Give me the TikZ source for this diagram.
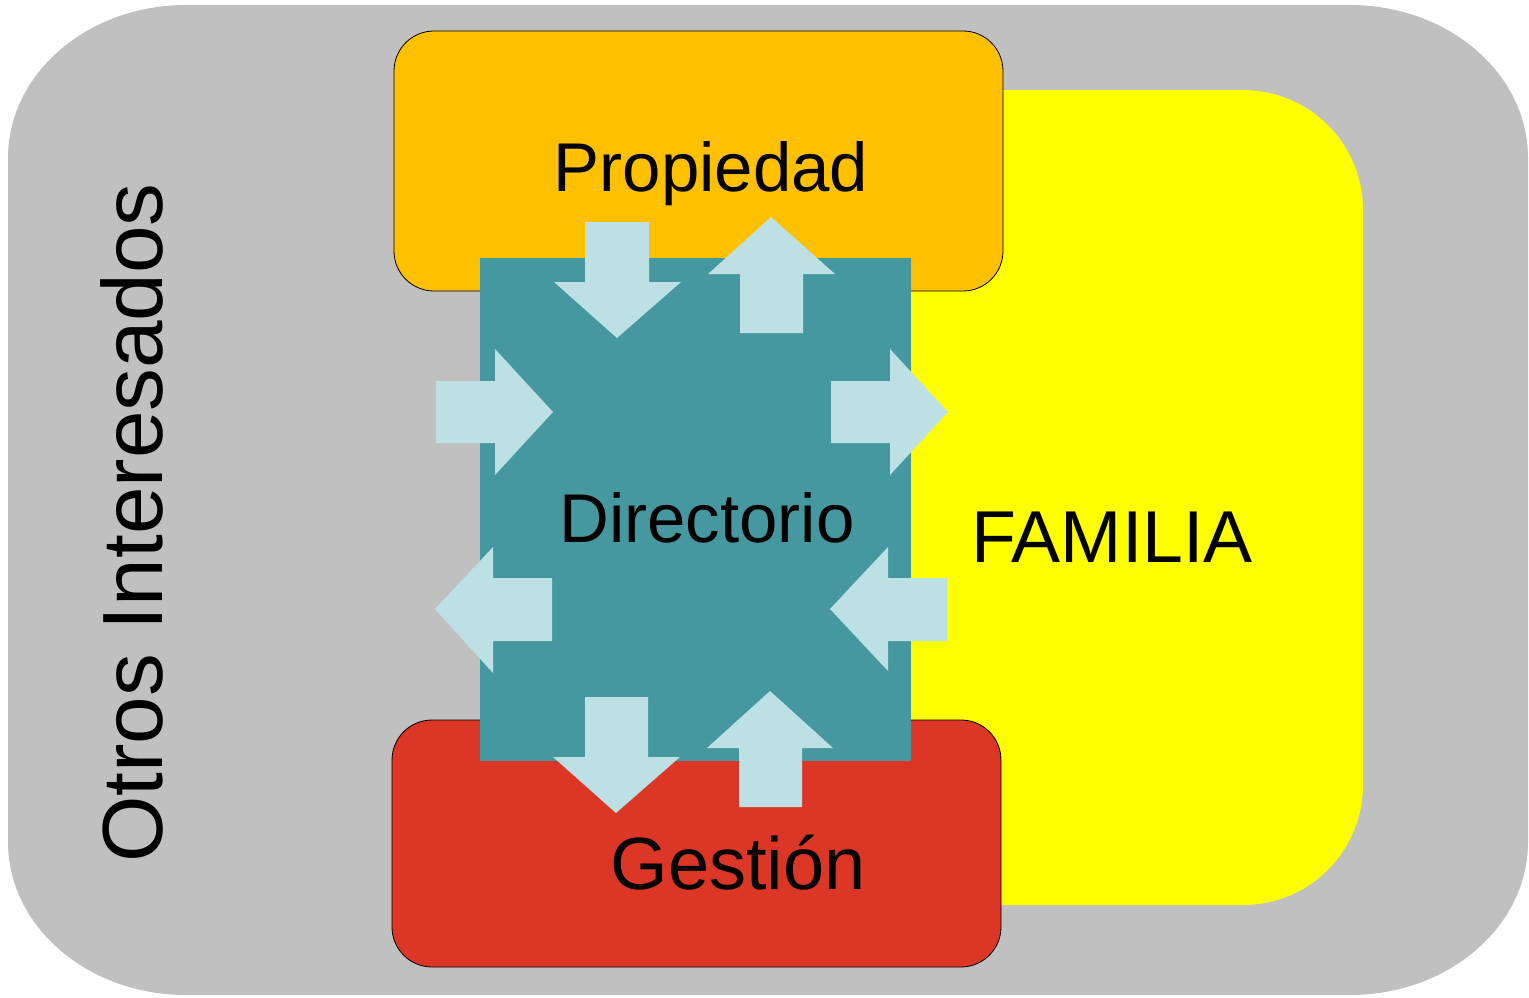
\documentclass[tikz,border=0pt]{standalone}
\usepackage{fontspec}
\setmainfont{Liberation Sans}
\definecolor{grayback}{HTML}{C0C0C0}
\definecolor{famyellow}{HTML}{FFFF00}
\definecolor{proporange}{HTML}{FFC000}
\definecolor{gestred}{HTML}{DC3626}
\definecolor{dirteal}{HTML}{4698A0}
\definecolor{arrowblue}{HTML}{BCE0E4}
\begin{document}
\begin{tikzpicture}[x=1pt,y=-1pt,
  flow/.style={fill=arrowblue,draw=none},
  box/.style={draw=black,line width=0.8pt,rounded corners=40pt},
  lbl/.style={inner sep=0pt,anchor=base,text=black}]
\useasboundingbox[fill=white] (0,0) rectangle (1529,998);
% outer gray area
\fill[grayback] (8,158) .. controls (8,73.5) and (87.7,5) .. (186,5) -- (1350,5)
  .. controls (1448.3,5) and (1528,73.5) .. (1528,158) -- (1528,842)
  .. controls (1528,926.5) and (1448.3,995) .. (1350,995) -- (186,995)
  .. controls (87.7,995) and (8,926.5) .. (8,842) -- cycle;
% family
\fill[famyellow,rounded corners=120pt] (700,90) rectangle (1363,905);
% ownership and management
\filldraw[box,fill=proporange] (394,31) rectangle (1003,291);
\filldraw[box,fill=gestred] (392,720) rectangle (1001,967);
% board
\fill[dirteal] (480,258) rectangle (911,761);
% arrows
\fill[flow] (585,222) -- (649,222) -- (649,282) -- (681,282) -- (617,338) -- (554,282) -- (585,282) -- cycle;
\fill[flow] (740,333) -- (803,333) -- (803,274) -- (835,274) -- (771,217) -- (708,274) -- (740,274) -- cycle;
\fill[flow] (436,381) -- (495,381) -- (495,349) -- (553,412) -- (495,475) -- (495,443) -- (436,443) -- cycle;
\fill[flow] (831,381) -- (890,381) -- (890,349) -- (948,412) -- (890,475) -- (890,443) -- (831,443) -- cycle;
\fill[flow] (552,578) -- (493,578) -- (493,547) -- (435,609) -- (493,673) -- (493,641) -- (552,641) -- cycle;
\fill[flow] (947,578) -- (888,578) -- (888,547) -- (830,609) -- (888,671) -- (888,641) -- (947,641) -- cycle;
\fill[flow] (585,697) -- (648,697) -- (648,757) -- (680,757) -- (616,813) -- (553,757) -- (585,757) -- cycle;
\fill[flow] (739,807) -- (802,807) -- (802,748) -- (833,748) -- (770,691) -- (707,748) -- (739,748) -- cycle;
% labels
\node[lbl,font=\fontsize{69}{80}\selectfont] (prop) at (711,191) {Propiedad};
\node[lbl,font=\fontsize{69}{80}\selectfont] (dir) at (707,542) {Directorio};
\node[lbl,font=\fontsize{73.5}{85}\selectfont] (fam) at (1112,562) {FAMILIA};
\node[lbl,font=\fontsize{74}{85}\selectfont] (gest) at (738,889) {Gestión};
\node[lbl,font=\fontsize{85.5}{96}\selectfont,rotate=90] (otros) at (162,523) {Otros Interesados};
\end{tikzpicture}
\end{document}
